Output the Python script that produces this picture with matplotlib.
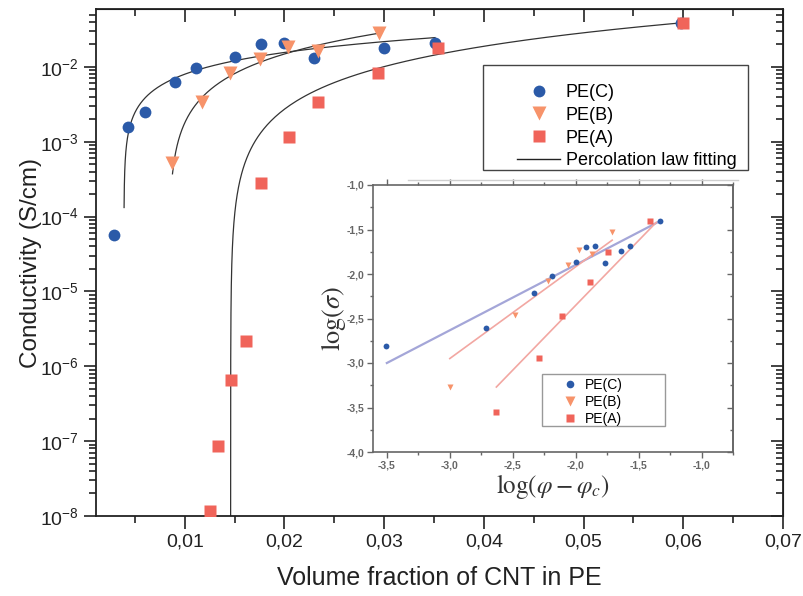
import matplotlib
matplotlib.use("Agg")
import matplotlib.pyplot as plt
from matplotlib.lines import Line2D
from matplotlib.patches import Rectangle
from matplotlib.ticker import FuncFormatter, LogLocator, MultipleLocator, NullFormatter
import numpy as np

plt.rcParams['font.family'] = ['Liberation Sans', 'DejaVu Sans']
plt.rcParams['mathtext.fontset'] = 'custom'
plt.rcParams['mathtext.rm'] = 'Liberation Sans'
plt.rcParams['mathtext.it'] = 'Liberation Sans:italic'

# main plot: conductivity vs CNT volume fraction
pe_c_x = [0.0029, 0.0043, 0.0060, 0.0090, 0.0111, 0.0150, 0.0176, 0.0200, 0.0230, 0.0300, 0.0351, 0.0598]
pe_c_y = [5.6e-5, 1.58e-3, 2.5e-3, 6.3e-3, 9.7e-3, 1.36e-2, 2.03e-2, 2.09e-2, 1.32e-2, 1.79e-2, 2.09e-2, 3.86e-2]
pe_b_x = [0.0087, 0.0117, 0.0145, 0.0175, 0.0204, 0.0234, 0.0295]
pe_b_y = [5.2e-4, 3.4e-3, 8.3e-3, 1.28e-2, 1.85e-2, 1.63e-2, 2.84e-2]
pe_a_x = [0.0125, 0.0133, 0.0146, 0.0161, 0.0176, 0.0205, 0.0234, 0.0294, 0.0354, 0.0600]
pe_a_y = [1.17e-8, 8.6e-8, 6.5e-7, 2.2e-6, 2.8e-4, 1.17e-3, 3.4e-3, 8.3e-3, 1.79e-2, 3.86e-2]

# percolation law fits: phi_c, exponent t, log10(sigma0), smallest (phi - phi_c), last phi
fit_c = (0.0039, 0.69, -0.57, 1.6e-5, 0.0351)
fit_b = (0.0084, 1.07, 0.243, 3.7e-4, 0.0295)
fit_a = (0.0146, 1.25, 0.269, 1e-7, 0.0600)

# inset: log-log plot
in_c_x = [-3.51, -2.71, -2.33, -2.19, -2.00, -1.92, -1.85, -1.77, -1.64, -1.57, -1.33]
in_c_y = [-2.81, -2.61, -2.21, -2.02, -1.86, -1.70, -1.69, -1.88, -1.74, -1.68, -1.41]
in_b_x = [-3.00, -2.48, -2.22, -2.06, -1.97, -1.87, -1.71]
in_b_y = [-3.27, -2.46, -2.08, -1.90, -1.73, -1.77, -1.53]
in_a_x = [-2.63, -2.29, -2.11, -1.89, -1.74, -1.41]
in_a_y = [-3.55, -2.94, -2.47, -2.09, -1.75, -1.41]
line_c = ([-3.50, -1.35], [-3.00, -1.42])
line_b = ([-3.00, -1.71], [-2.95, -1.62])
line_a = ([-2.63, -1.36], [-3.27, -1.42])

labels = ['PE(C)', 'PE(B)', 'PE(A)']
c_blue = '#2b5aa8'
c_orange = '#f7936a'
c_red = '#f0645a'

W, H = 804, 596
fig = plt.figure(figsize=(W / 100, H / 100), dpi=100)


def px_rect(x0, y0, x1, y1):
    return [x0 / W, 1 - y1 / H, (x1 - x0) / W, (y1 - y0) / H]


ax = fig.add_axes(px_rect(96, 9, 783, 516))
ax.set_yscale('log')
ax.set_xlim(0.0011, 0.0700)
ax.set_ylim(1e-8, 10 ** -1.227)

for phic, t, logs0, dmin, xend in (fit_c, fit_b, fit_a):
    d = np.geomspace(dmin, xend - phic, 400)
    ax.plot(phic + d, 10 ** (logs0 + t * np.log10(d)), color='#333333', lw=0.9, zorder=2)

ax.plot(pe_c_x, pe_c_y, 'o', color=c_blue, ms=8.5, mec='none', zorder=3)
ax.plot(pe_b_x, pe_b_y, 'v', color=c_orange, ms=9.5, mec='none', zorder=3)
ax.plot(pe_a_x, pe_a_y, 's', color=c_red, ms=8, mec='none', zorder=3)

ax.xaxis.set_major_locator(MultipleLocator(0.01))
ax.xaxis.set_minor_locator(MultipleLocator(0.005))
ax.xaxis.set_major_formatter(FuncFormatter(lambda v, p: f'{v:.2f}'.replace('.', ',')))
ax.yaxis.set_major_locator(LogLocator(base=10, numticks=15))
ax.yaxis.set_minor_locator(LogLocator(base=10, subs=np.arange(2, 10), numticks=15))
ax.yaxis.set_minor_formatter(NullFormatter())
ax.yaxis.set_major_formatter(FuncFormatter(lambda v, p: f'$10^{{{int(round(np.log10(v)))}}}$'))
ax.tick_params(which='both', direction='out', width=1.2, colors='#222222', labelsize=14)
ax.tick_params(which='major', length=9)
ax.tick_params(which='minor', length=5)
for s in ax.spines.values():
    s.set_linewidth(1.3)
    s.set_color('#222222')

ax_top = ax.secondary_xaxis('top')
ax_top.xaxis.set_major_locator(MultipleLocator(0.01))
ax_top.xaxis.set_minor_locator(MultipleLocator(0.005))
ax_top.tick_params(which='both', direction='in', width=1.2, colors='#222222', labeltop=False)
ax_top.tick_params(which='major', length=9)
ax_top.tick_params(which='minor', length=5)
ax_right = ax.secondary_yaxis('right')
ax_right.yaxis.set_major_locator(LogLocator(base=10, numticks=15))
ax_right.yaxis.set_minor_locator(LogLocator(base=10, subs=np.arange(2, 10), numticks=15))
ax_right.tick_params(which='both', direction='in', width=1.2, colors='#222222', labelright=False)
ax_right.tick_params(which='major', length=9)
ax_right.tick_params(which='minor', length=5)

ax.set_xlabel('Volume fraction of CNT in PE', fontsize=18, color='#222222', labelpad=11)
ax.set_ylabel('Conductivity (S/cm)', fontsize=17.5, color='#222222', labelpad=-2)

# main legend
fig.add_artist(Rectangle((483 / W, 1 - 170 / H), 265 / W, 105 / H, transform=fig.transFigure,
                         fill=False, lw=1.0, ec='#444444'))
handles = [
    Line2D([], [], ls='none', marker='o', color=c_blue, ms=8.5, mec='none'),
    Line2D([], [], ls='none', marker='v', color=c_orange, ms=9.5, mec='none'),
    Line2D([], [], ls='none', marker='s', color=c_red, ms=8, mec='none'),
    Line2D([], [], color='#222222', lw=1.0),
]
ax.legend(handles, labels + ['Percolation law fitting'], loc='upper left',
          bbox_to_anchor=(517 / W, 1 - 84 / H), bbox_transform=fig.transFigure,
          frameon=False, fontsize=13, borderpad=0, borderaxespad=0,
          handlelength=2.4, handletextpad=0.3, labelspacing=0.32)

# faint line above the inset
fig.add_artist(Line2D([408 / W, 738 / W], [1 - 180 / H, 1 - 180 / H], transform=fig.transFigure,
                      color='#cfcfcf', lw=1))

# inset
gray = '#666666'
axi = fig.add_axes(px_rect(373, 185, 733, 452))
axi.set_facecolor('white')
axi.set_xlim(-3.61, -0.75)
axi.set_ylim(-4.0, -1.0)
axi.plot(*line_c, color='#a4a6d8', lw=1.6, zorder=2)
axi.plot(*line_b, color='#f2a7a2', lw=1.2, zorder=2)
axi.plot(*line_a, color='#f2a7a2', lw=1.2, zorder=2)
axi.plot(in_c_x, in_c_y, 'o', color=c_blue, ms=4.2, mec='none', zorder=3)
axi.plot(in_b_x, in_b_y, 'v', color=c_orange, ms=5, mec='none', zorder=3)
axi.plot(in_a_x, in_a_y, 's', color=c_red, ms=4, mec='none', zorder=3)

fmt_comma = FuncFormatter(lambda v, p: f'{v:.1f}'.replace('.', ','))
axi.xaxis.set_major_locator(MultipleLocator(0.5))
axi.xaxis.set_minor_locator(MultipleLocator(0.25))
axi.yaxis.set_major_locator(MultipleLocator(0.5))
axi.yaxis.set_minor_locator(MultipleLocator(0.25))
axi.xaxis.set_major_formatter(fmt_comma)
axi.yaxis.set_major_formatter(fmt_comma)
axi.tick_params(which='both', direction='out', top=True, width=1.0, colors=gray, labelsize=7.5, pad=2)
axi.tick_params(which='major', length=4)
axi.tick_params(which='minor', length=2.5)
for lab in axi.get_xticklabels() + axi.get_yticklabels():
    lab.set_fontweight('bold')
for s in axi.spines.values():
    s.set_linewidth(1.2)
    s.set_color(gray)
axi_r = axi.secondary_yaxis('right')
axi_r.yaxis.set_major_locator(MultipleLocator(0.5))
axi_r.yaxis.set_minor_locator(MultipleLocator(0.25))
axi_r.tick_params(which='both', direction='in', width=1.0, colors=gray, labelright=False)
axi_r.tick_params(which='major', length=4)
axi_r.tick_params(which='minor', length=2.5)
axi_r.spines['right'].set_color(gray)
axi_r.spines['right'].set_linewidth(1.2)

axi.set_xlabel(r'$\mathrm{log}(\varphi-\varphi_c)$', fontsize=18, math_fontfamily='stix',
               color='#333333', labelpad=1)
axi.set_ylabel(r'$\mathrm{log}(\sigma)$', fontsize=19, math_fontfamily='stix',
               color='#333333', labelpad=-1)

# inset legend with its own frame
axi.add_artist(Rectangle((542 / W, 1 - 426 / H), 123 / W, 52 / H, transform=fig.transFigure,
                         fc='white', lw=1.0, ec='#999999', zorder=4, clip_on=False))
in_handles = [
    Line2D([], [], ls='none', marker='o', color=c_blue, ms=5.5, mec='none'),
    Line2D([], [], ls='none', marker='v', color=c_orange, ms=6.5, mec='none'),
    Line2D([], [], ls='none', marker='s', color=c_red, ms=5.5, mec='none'),
]
leg = axi.legend(in_handles, labels, loc='upper left',
                 bbox_to_anchor=(562 / W, 1 - 378 / H), bbox_transform=fig.transFigure,
                 frameon=False, fontsize=10, borderpad=0, borderaxespad=0,
                 handlelength=1.2, handletextpad=0.45, labelspacing=0.22)
leg.set_zorder(6)

fig.savefig('out.png', dpi=100)
